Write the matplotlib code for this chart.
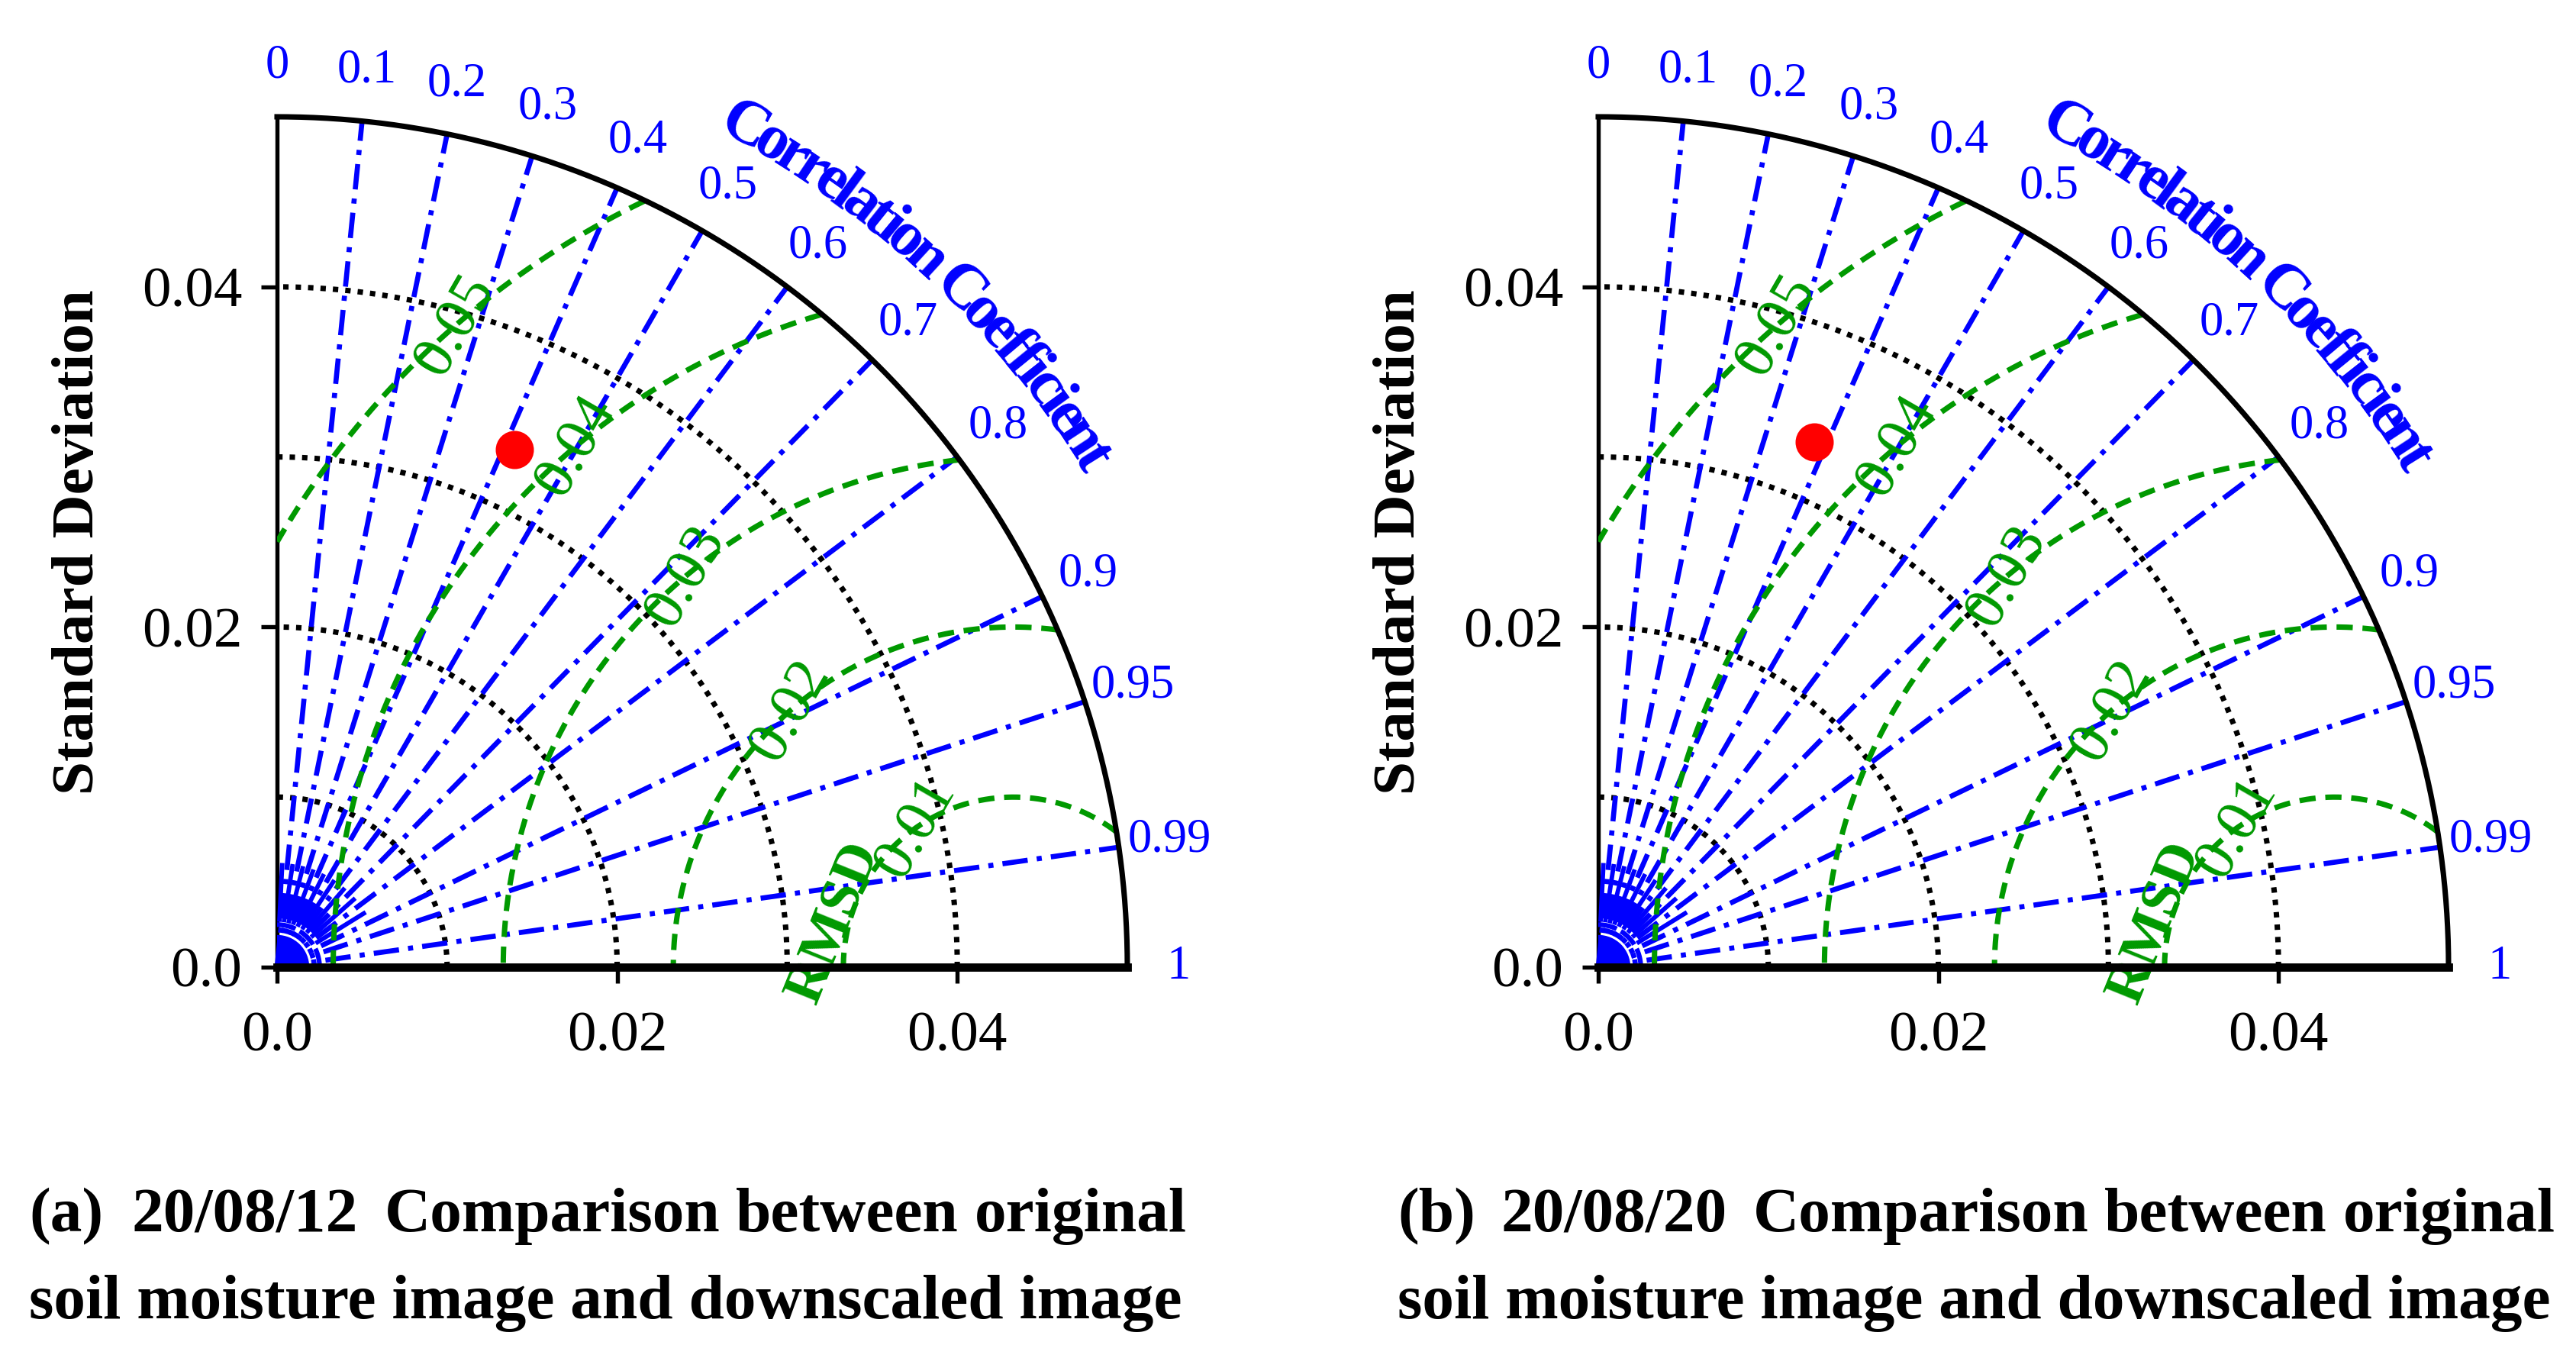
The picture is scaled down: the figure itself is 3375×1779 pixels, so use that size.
import numpy as np
import matplotlib
matplotlib.use('Agg')
import matplotlib.pyplot as plt
from matplotlib.patches import Wedge
from matplotlib.font_manager import FontProperties

plt.rcParams['font.family'] = ['Liberation Serif', 'DejaVu Serif']

# Taylor diagram values
panel_tags = ['(a)', '(b)']
panel_dates = ['20/08/12', '20/08/20']
ref_std = [0.0433, 0.0433]
model_std = [0.0335, 0.0334]
model_corr = [0.417, 0.380]

corr_ticks = [0.1, 0.2, 0.3, 0.4, 0.5, 0.6, 0.7, 0.8, 0.9, 0.95, 0.99]
corr_tick_labels = ['0', '0.1', '0.2', '0.3', '0.4', '0.5', '0.6', '0.7',
                    '0.8', '0.9', '0.95', '0.99', '1']
minor_corr = [0.05, 0.15, 0.25, 0.35, 0.45, 0.55, 0.65, 0.75, 0.85]
std_ticks = [0.0, 0.02, 0.04]
std_tick_labels = ['0.0', '0.02', '0.04']
std_grid = [0.01, 0.02, 0.03, 0.04]
rms_levels = [0.01, 0.02, 0.03, 0.04, 0.05]
rms_labels = ['0.01', '0.02', '0.03', '0.04', '0.05']
std_max = 0.05

GREEN = '#009900'
rms_label_angle = [125, 131, 130, 130, 131]   # degrees around the reference point

fig = plt.figure(figsize=(11.25, 5.93), dpi=300)
W, H = 3375.0, 1779.0


def curved_text(ax, text, r, start_deg, fs, spacing=0.9):
    renderer = fig.canvas.get_renderer()
    fp = FontProperties(family='Liberation Serif', weight='bold', size=fs)
    px = ax.transData.transform((1, 0))[0] - ax.transData.transform((0, 0))[0]

    def w(s):
        return renderer.get_text_width_height_descent(s + '|', fp, ismath=False)[0] - \
            renderer.get_text_width_height_descent('|', fp, ismath=False)[0]

    for i, ch in enumerate(text):
        left = w(text[:i]) if i > 0 else 0.0
        cw = w(ch)
        centre = (left + cw / 2) * spacing
        ang = start_deg - np.degrees(centre / px / r)
        if ch == ' ':
            continue
        a = np.radians(ang)
        ax.text(r * np.cos(a), r * np.sin(a), ch, rotation=ang - 90,
                rotation_mode='anchor', ha='center', va='baseline',
                fontproperties=fp, color='blue', clip_on=False)


def draw_panel(ax, k):
    R = std_max
    ax.set_xlim(0, R)
    ax.set_ylim(0, R)
    th = np.linspace(0, np.pi / 2, 400)

    # standard deviation arcs
    for s in std_grid:
        ax.plot(s * np.cos(th), s * np.sin(th), color='black',
                ls=(0, (1, 1.3)), lw=1.7, zorder=2)
    ax.plot(R * np.cos(th), R * np.sin(th), color='black', lw=1.7,
            clip_on=False, zorder=5)

    # correlation lines and labels
    for c in corr_ticks:
        a = np.arccos(c)
        ax.plot([0, R * np.cos(a)], [0, R * np.sin(a)], color='blue', lw=1.6,
                ls=(0, (5, 1.8, 1, 1.8)), zorder=3, clip_on=False)
    for c in minor_corr:
        a = np.arccos(c)
        ax.plot([0.0028 * np.cos(a), 0.006 * np.cos(a)],
                [0.0028 * np.sin(a), 0.006 * np.sin(a)],
                color='blue', lw=1.4, zorder=3)
    ax.add_patch(Wedge((0, 0), 0.0018, 0, 90, color='blue', zorder=3))
    ax.plot(0.0025 * np.cos(th), 0.0025 * np.sin(th), color='blue', lw=1.5,
            ls=(0, (4, 1)), zorder=3)

    for c, lab in zip([0.0] + corr_ticks + [1.0], corr_tick_labels):
        a = np.arccos(c)
        ax.text(0.053 * np.cos(a), 0.053 * np.sin(a), lab, color='blue',
                fontsize=15, ha='center', va='center', clip_on=False)
    curved_text(ax, 'Correlation Coefficient', 0.0556, 62.0, 20, spacing=0.8)

    # centred RMS difference arcs
    ref = ref_std[k]
    phi = np.linspace(0, np.pi, 1200)
    for r, lab, ang in zip(rms_levels, rms_labels, rms_label_angle):
        x = ref + r * np.cos(phi)
        y = r * np.sin(phi)
        m = (np.hypot(x, y) <= R) & (x >= 0)
        ax.plot(np.where(m, x, np.nan), np.where(m, y, np.nan), color=GREEN,
                ls=(0, (3, 1.8)), lw=1.7, zorder=3)
        a = np.radians(ang)
        ax.text(ref + r * np.cos(a), r * np.sin(a), lab, color=GREEN,
                fontsize=19, rotation=60, ha='center', va='center', zorder=6)
    ax.text(0.0328, 0.0026, 'RMSD', color=GREEN, fontsize=18,
            fontweight='bold', rotation=68, ha='center', va='center',
            clip_on=False, zorder=6)

    # model point
    mc = model_corr[k]
    ms = model_std[k]
    ax.plot([ms * mc], [ms * np.sqrt(1 - mc ** 2)], 'o', color='red',
            ms=11, zorder=7, clip_on=False)

    for sp in ['top', 'right']:
        ax.spines[sp].set_visible(False)
    ax.spines['left'].set_linewidth(1.3)
    ax.spines['bottom'].set_linewidth(2.6)
    ax.spines['bottom'].set_zorder(6)
    ax.set_xticks(std_ticks)
    ax.set_xticklabels(std_tick_labels)
    ax.set_yticks(std_ticks)
    ax.set_yticklabels(std_tick_labels)
    ax.tick_params(direction='out', length=5, width=1.3, labelsize=18)
    ax.tick_params(axis='x', pad=9)
    ax.tick_params(axis='y', pad=6)
    ax.text(-0.2325, 0.5, 'Standard Deviation', transform=ax.transAxes,
            rotation=90, ha='center', va='center', fontsize=19,
            fontweight='bold')


origins_x = [363, 2094]
caption_x = [38, 1831]
word_offsets = [0, 135, 466, 926]

for k in range(2):
    ax = fig.add_axes([origins_x[k] / W, (H - 1267) / H, 1114 / W, 1114 / H])
    draw_panel(ax, k)

    words = [panel_tags[k], panel_dates[k], 'Comparison', 'between']
    for wd, off in zip(words, word_offsets):
        fig.text((caption_x[k] + off) / W, 0.0933, wd, fontsize=20,
                 fontweight='bold', ha='left', va='baseline')
    fig.text((caption_x[k] + 1517) / W, 0.0933, 'original', fontsize=20,
             fontweight='bold', ha='right', va='baseline')
    fig.text(caption_x[k] / W, 0.0292,
             'soil moisture image and downscaled image', fontsize=20,
             fontweight='bold', ha='left', va='baseline')

fig.savefig('out.png', dpi=300)
